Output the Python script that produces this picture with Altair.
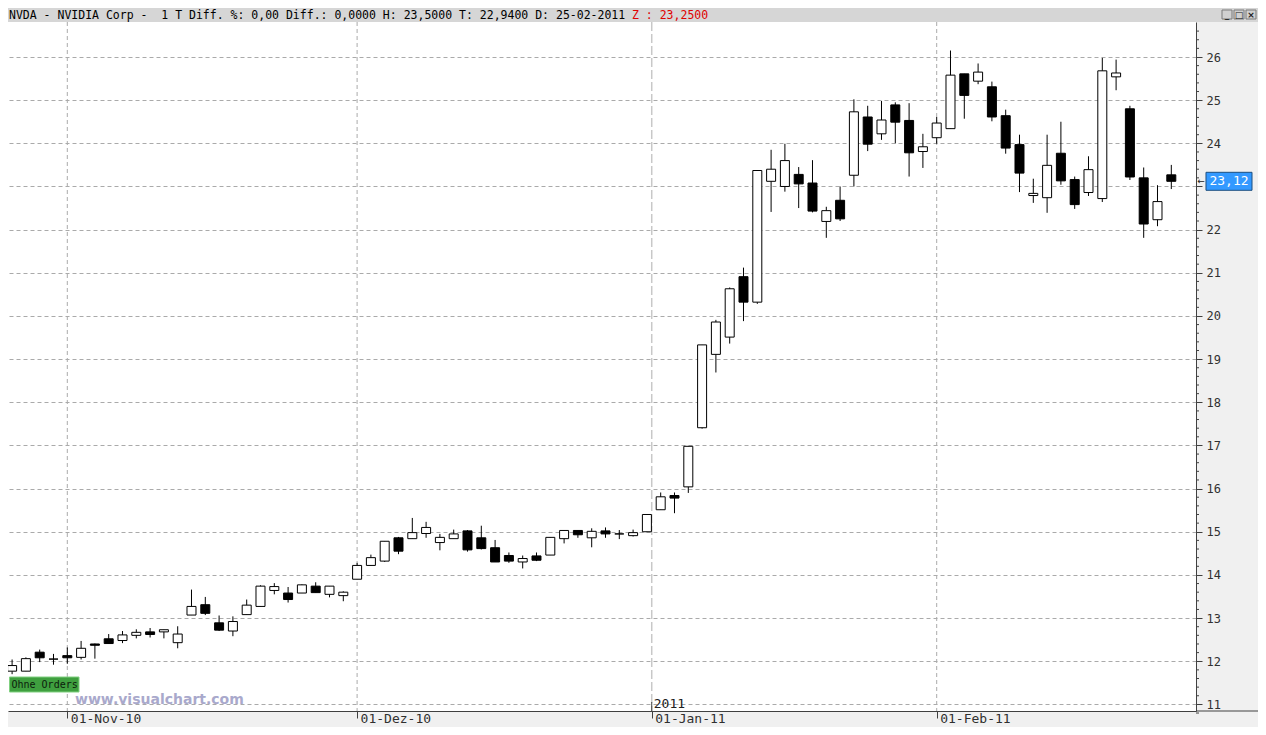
import json
import altair as alt
import pandas as pd

# ---------------- data ----------------
dates = [
    "2010-10-26", "2010-10-27", "2010-10-28", "2010-10-29",
    "2010-11-01", "2010-11-02", "2010-11-03", "2010-11-04", "2010-11-05",
    "2010-11-08", "2010-11-09", "2010-11-10", "2010-11-11", "2010-11-12",
    "2010-11-15", "2010-11-16", "2010-11-17", "2010-11-18", "2010-11-19",
    "2010-11-22", "2010-11-23", "2010-11-24", "2010-11-26",
    "2010-11-29", "2010-11-30",
    "2010-12-01", "2010-12-02", "2010-12-03",
    "2010-12-06", "2010-12-07", "2010-12-08", "2010-12-09", "2010-12-10",
    "2010-12-13", "2010-12-14", "2010-12-15", "2010-12-16", "2010-12-17",
    "2010-12-20", "2010-12-21", "2010-12-22", "2010-12-23",
    "2010-12-27", "2010-12-28", "2010-12-29", "2010-12-30", "2010-12-31",
    "2011-01-03", "2011-01-04", "2011-01-05", "2011-01-06", "2011-01-07",
    "2011-01-10", "2011-01-11", "2011-01-12", "2011-01-13", "2011-01-14",
    "2011-01-18", "2011-01-19", "2011-01-20", "2011-01-21",
    "2011-01-24", "2011-01-25", "2011-01-26", "2011-01-27", "2011-01-28",
    "2011-01-31",
    "2011-02-01", "2011-02-02", "2011-02-03", "2011-02-04",
    "2011-02-07", "2011-02-08", "2011-02-09", "2011-02-10", "2011-02-11",
    "2011-02-14", "2011-02-15", "2011-02-16", "2011-02-17", "2011-02-18",
    "2011-02-22", "2011-02-23", "2011-02-24", "2011-02-25",
]
opens = [
    11.77, 11.77, 12.21, 12.05,
    12.13, 12.09, 12.40, 12.52, 12.48,
    12.60, 12.68, 12.68, 12.43, 13.07,
    13.31, 12.89, 12.70, 13.08, 13.27,
    13.64, 13.58, 13.58, 13.74,
    13.55, 13.52,
    13.90, 14.22, 14.32,
    14.86, 14.84, 14.96, 14.75, 14.84,
    15.02, 14.86, 14.63, 14.45, 14.30,
    14.44, 14.46, 14.84, 15.03,
    14.86, 15.02, 14.95, 14.91, 15.00,
    15.51, 15.84, 16.04, 17.41, 19.11,
    19.51, 20.91, 20.32, 23.12, 23.00,
    23.28, 23.08, 22.19, 22.68,
    23.26, 24.61, 24.22, 24.89, 24.53,
    23.81,
    24.13, 24.34, 25.61, 25.44,
    25.31, 24.64, 23.97, 22.79, 22.74,
    23.77, 23.16, 22.86, 22.72, 25.54,
    24.80, 23.20, 22.23, 23.27,
]
highs = [
    12.04, 12.09, 12.27, 12.17,
    12.32, 12.47, 12.41, 12.63, 12.70,
    12.74, 12.77, 12.73, 12.81, 13.66,
    13.49, 13.06, 13.04, 13.43, 13.76,
    13.81, 13.72, 13.78, 13.83,
    13.74, 13.62,
    14.28, 14.47, 14.78,
    14.88, 15.32, 15.23, 14.95, 15.05,
    15.04, 15.14, 14.81, 14.52, 14.45,
    14.52, 14.87, 15.03, 15.03,
    15.08, 15.10, 15.04, 15.05, 15.40,
    15.91, 15.91, 16.98, 19.33, 19.91,
    20.66, 21.12, 23.37, 23.85, 23.99,
    23.45, 23.61, 22.53, 23.00,
    25.02, 24.87, 24.98, 24.95, 24.93,
    24.22,
    24.61, 26.15, 25.61, 25.85,
    25.43, 24.78, 24.20, 23.18, 24.20,
    24.50, 23.23, 23.70, 25.98, 25.94,
    24.87, 23.44, 23.03, 23.50,
]
lows = [
    11.70, 11.77, 11.98, 11.92,
    11.94, 12.04, 12.06, 12.41, 12.42,
    12.53, 12.55, 12.53, 12.30, 13.07,
    13.07, 12.70, 12.58, 13.08, 13.27,
    13.55, 13.36, 13.58, 13.59,
    13.48, 13.39,
    13.90, 14.22, 14.30,
    14.48, 14.84, 14.86, 14.57, 14.84,
    14.54, 14.59, 14.30, 14.28, 14.15,
    14.32, 14.46, 14.73, 14.86,
    14.64, 14.86, 14.83, 14.89, 15.00,
    15.51, 15.43, 15.90, 17.39, 18.69,
    19.36, 19.88, 20.28, 22.41, 22.88,
    22.50, 22.40, 21.81, 22.20,
    23.00, 23.82, 24.08, 24.00, 23.23,
    23.43,
    23.99, 24.34, 24.57, 25.37,
    24.51, 23.76, 22.87, 22.62, 22.39,
    23.04, 22.48, 22.78, 22.64, 25.23,
    23.15, 21.81, 22.08, 22.94,
]
closes = [
    11.90, 12.06, 12.08, 12.05,
    12.08, 12.30, 12.37, 12.41, 12.61,
    12.67, 12.62, 12.73, 12.63, 13.27,
    13.11, 12.72, 12.92, 13.30, 13.74,
    13.73, 13.43, 13.77, 13.59,
    13.74, 13.60,
    14.22, 14.40, 14.78,
    14.55, 14.98, 15.10, 14.87, 14.95,
    14.58, 14.61, 14.30, 14.32, 14.38,
    14.34, 14.87, 15.03, 14.93,
    15.01, 14.95, 14.95, 14.98, 15.40,
    15.81, 15.78, 16.98, 19.33, 19.86,
    20.63, 20.32, 23.37, 23.40, 23.60,
    23.06, 22.43, 22.44, 22.25,
    24.73, 23.98, 24.54, 24.49, 23.78,
    23.92,
    24.47, 25.58, 25.11, 25.65,
    24.61, 23.89, 23.31, 22.84, 23.49,
    23.13, 22.58, 23.39, 25.68, 25.63,
    23.22, 22.13, 22.65, 23.12,
]

month_ticks = [0, 21, 42.35, 63]          # trading-day number (0 = 01-Nov-10)
month_labels = ["01-Nov-10", "01-Dez-10", "01-Jan-11", "01-Feb-11"]
month_grid_days = [0, 21, 63]
year_day = [42.35]
year_label = ["2011"]
y_ticks = list(range(11, 27))
minor_ticks = [round(10.8 + 0.2 * k, 1) for k in range(80) if round(10.8 + 0.2 * k, 1) % 1 != 0]

header_text = "NVDA - NVIDIA Corp -\u00a0\u00a01 T Diff. %: 0,00 Diff.: 0,0000 H: 23,5000 T: 22,9400 D: 25-02-2011"
header_red = "Z : 23,2500"
last_price = 23.12
last_label = "23,12"

# ---------------- layout ----------------
W, H = 1188, 689
PAD = {"left": 0, "top": 14, "right": 62, "bottom": 16}
MONO = "DejaVu Sans Mono"
AXC = "#404040"

first = dates.index("2010-11-01")
df = pd.DataFrame({"date": dates, "open": opens, "high": highs, "low": lows, "close": closes})
df["day"] = list(range(-first, len(dates) - first))

xs = alt.Scale(domain=[-4.297, 81.79], nice=False, zero=False, padding=0)
ys = alt.Scale(domain=[10.847, 26.811], nice=False, zero=False, padding=0)

label_expr = f"{json.dumps(month_labels)}[indexof({json.dumps(month_ticks)}, datum.value)]"
xaxis = alt.Axis(values=month_ticks, labelExpr=label_expr, grid=False, title=None,
                 orient="bottom", tickSize=7, tickColor=AXC, domainColor=AXC,
                 labelFont=MONO, labelFontSize=13, labelColor="#303030",
                 labelAlign="left", labelBaseline="alphabetic", labelOffset=3,
                 labelPadding=4, labelFlush=False, labelOverlap=False, labelBound=False)
yaxis = alt.Axis(values=y_ticks, orient="right", title=None, grid=True,
                 gridColor="#aaaaaa", gridDash=[4, 3], gridWidth=1,
                 tickSize=6, tickColor=AXC, domainColor=AXC,
                 labelFont=MONO, labelFontSize=12, labelColor="#303030",
                 labelExpr=f"datum.value == {int(last_price)} ? '' : datum.label",
                 labelPadding=4, labelBaseline="middle", labelFlush=False,
                 labelOverlap=False, labelBound=False)

X = alt.X("day:Q", scale=xs, axis=xaxis)
Y = lambda f: alt.Y(f"{f}:Q", scale=ys, axis=yaxis)

one = pd.DataFrame({"k": [0]})

vgrid = alt.Chart(pd.DataFrame({"day": month_grid_days})).mark_rule(
    color="#aaaaaa", strokeDash=[4, 3], strokeWidth=1
).encode(x=X, y=alt.value(0), y2=alt.value(H))

ygrid = alt.Chart(pd.DataFrame({"day": year_day, "t": year_label})).mark_rule(
    color="#c8c8c8", strokeDash=[9, 3], strokeWidth=1.5
).encode(x=X, y=alt.value(0), y2=alt.value(H))

year_tick = alt.Chart(pd.DataFrame({"day": year_day})).mark_rule(
    color=AXC, strokeWidth=1
).encode(x=X, y=alt.value(H - 9), y2=alt.value(H))

year_text = alt.Chart(pd.DataFrame({"day": year_day, "t": year_label})).mark_text(
    font=MONO, fontSize=13, align="left", baseline="alphabetic", dx=2, color="#202020"
).encode(x=X, y=alt.value(H - 3), text="t:N")

wicks = alt.Chart(df).mark_rule(color="black", strokeWidth=1).encode(
    x=X, y=Y("low"), y2=alt.Y2("high")
)

bodies = alt.Chart(df).mark_bar(size=9, stroke="black", strokeWidth=1).encode(
    x=X, y=Y("open"), y2=alt.Y2("close"),
    fill=alt.condition("datum.close >= datum.open", alt.value("white"), alt.value("black")),
)

# minor ticks on the price axis
minor = alt.Chart(pd.DataFrame({"v": minor_ticks})).mark_rule(color=AXC, strokeWidth=1).encode(
    y=Y("v"), x=alt.value(W), x2=alt.value(W + 3)
)
bottom_line = alt.Chart(one).mark_rule(color=AXC, strokeWidth=1).encode(
    x=alt.value(W), x2=alt.value(W + PAD["right"]), y=alt.value(H)
)

# last price marker
lp = pd.DataFrame({"v": [last_price], "t": [last_label]})
lp_box = alt.Chart(lp).mark_point(
    shape="M-2.556,-1L2.556,-1L2.556,1L-2.556,1Z", size=324, filled=True,
    fill="#3399ff", stroke="#1d4f80", strokeWidth=1, opacity=1
).encode(x=alt.value(W + 33), y=Y("v"))
lp_text = alt.Chart(lp).mark_text(font=MONO, fontSize=13, color="white", baseline="middle").encode(
    x=alt.value(W + 33), y=Y("v"), text="t:N"
)
lp_arrow = alt.Chart(lp).mark_text(font="DejaVu Sans", fontSize=9, color="#202020", baseline="middle").encode(
    x=alt.value(W + 5), y=Y("v"), text=alt.value("←")
)

# header bar
hdr_rect = alt.Chart(one).mark_rect(color="#d6d6d6").encode(
    x=alt.value(-2), x2=alt.value(W + PAD["right"] + 2), y=alt.value(-PAD["top"]), y2=alt.value(0)
)
hdr_text = alt.Chart(pd.DataFrame({"t": [header_text]})).mark_text(
    font=MONO, fontSize=11.5, align="left", baseline="alphabetic", color="black"
).encode(x=alt.value(1), y=alt.value(-3), text="t:N")
hdr_red = alt.Chart(pd.DataFrame({"t": [header_red]})).mark_text(
    font=MONO, fontSize=11.5, align="left", baseline="alphabetic", color="#e00000"
).encode(x=alt.value(624), y=alt.value(-3), text="t:N")

btn = pd.DataFrame({"x": [W + 26, W + 38, W + 50], "g": ["_", "□", "×"]})
btn_rect = alt.Chart(btn).mark_rect(fill="#d0d0d0", stroke="#7a7a7a", strokeWidth=1).encode(
    x=alt.X("x:Q", scale=None), x2=alt.X2("x2:Q"), y=alt.value(-12), y2=alt.value(-3)
).transform_calculate(x2="datum.x + 10")
btn_text = alt.Chart(btn).mark_text(font="DejaVu Sans", fontSize=9, fontWeight="bold", color="#202020",
                                    baseline="middle").encode(
    x=alt.X("xc:Q", scale=None), y=alt.value(-7.5), text="g:N"
).transform_calculate(xc="datum.x + 5")

# overlays
orders_rect = alt.Chart(one).mark_rect(fill="#3f9f3f", stroke="#80d080", strokeWidth=1).encode(
    x=alt.value(1.5), x2=alt.value(71), y=alt.value(655), y2=alt.value(670)
)
orders_text = alt.Chart(pd.DataFrame({"t": ["Ohne Orders"]})).mark_text(
    font=MONO, fontSize=10, align="left", baseline="middle", color="#0c200c"
).encode(x=alt.value(3.5), y=alt.value(663), text="t:N")
watermark = alt.Chart(pd.DataFrame({"t": ["www.visualchart.com"]})).mark_text(
    font="DejaVu Sans", fontSize=14, fontWeight="bold", align="left", baseline="alphabetic",
    color="#a9a9cc"
).encode(x=alt.value(67), y=alt.value(682), text="t:N")

chart = alt.layer(
    vgrid, ygrid, year_tick, wicks, bodies, year_text,
    orders_rect, orders_text, watermark,
    minor, bottom_line, lp_box, lp_text, lp_arrow,
    hdr_rect, hdr_text, hdr_red, btn_rect, btn_text,
).properties(
    width=W, height=H,
    autosize=alt.AutoSizeParams(type="none"),
    padding=PAD,
    background="#f0f0f0",
).configure_view(fill="white", strokeWidth=0)

chart.save("out.html", embed_options={"renderer": "svg", "actions": False})
